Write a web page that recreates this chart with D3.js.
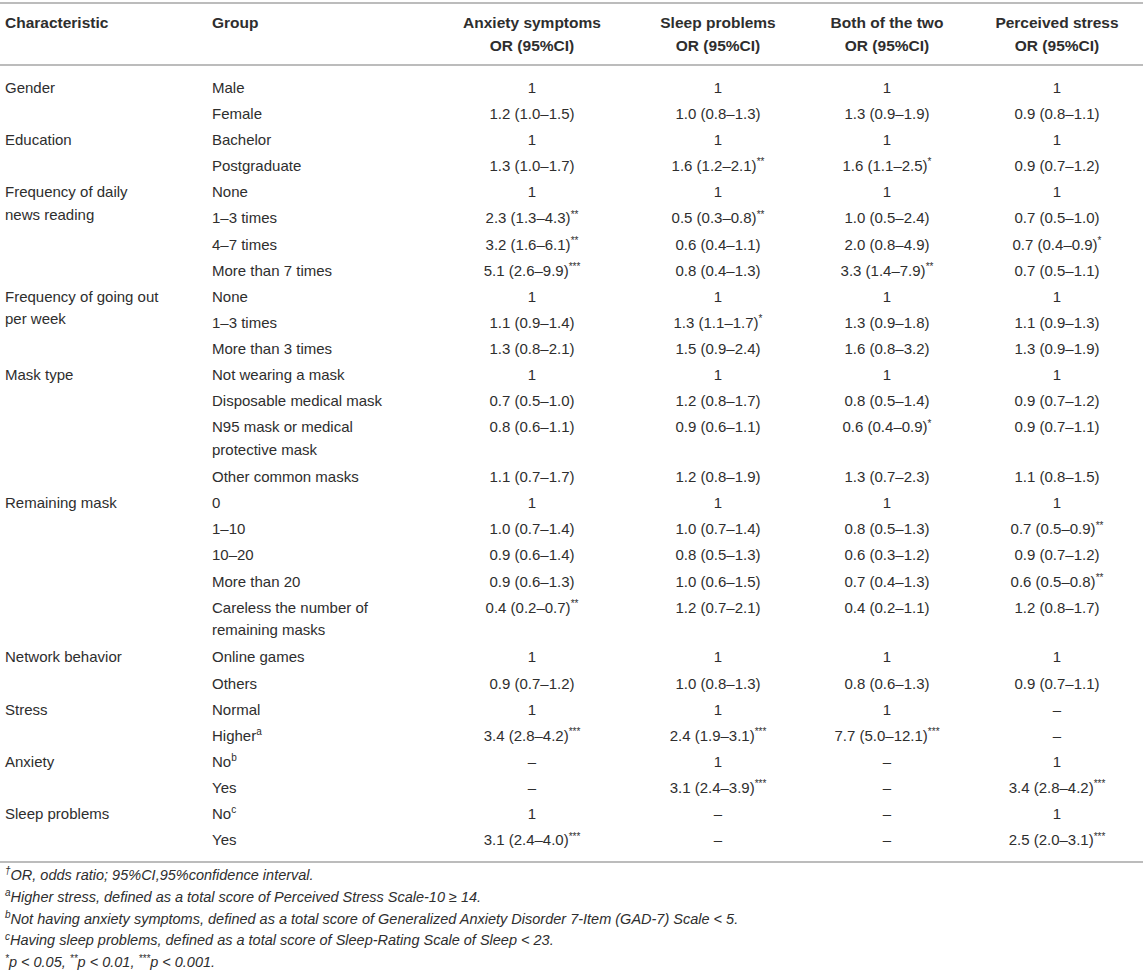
<!DOCTYPE html>
<html>
<head>
<meta charset="utf-8">
<script src="https://cdn.jsdelivr.net/npm/d3@7"></script>
<style>
  html, body { margin: 0; padding: 0; background: #fff; }
  svg text { font-family: "Liberation Sans", Arial, Helvetica, sans-serif; fill: #2e2e2e; }
</style>
</head>
<body>
<svg id="chart" width="1143" height="972"></svg>
<script>
// ---------------- DATA ----------------
const columns = ["Anxiety symptoms", "Sleep problems", "Both of the two", "Perceived stress"];
const columnSub = "OR (95%CI)";

// characteristic label (with line breaks) and the number of group rows it spans
const characteristics = [
  "Gender", "Education", "Frequency of daily\nnews reading", "Frequency of going out\nper week",
  "Mask type", "Remaining mask", "Network behavior", "Stress", "Anxiety", "Sleep problems"
];
const groupCounts = [2, 2, 4, 3, 4, 5, 2, 2, 2, 2];

// group labels ("^" marks a superscript)
const groups = [
  "Male", "Female",
  "Bachelor", "Postgraduate",
  "None", "1–3 times", "4–7 times", "More than 7 times",
  "None", "1–3 times", "More than 3 times",
  "Not wearing a mask", "Disposable medical mask", "N95 mask or medical\nprotective mask", "Other common masks",
  "0", "1–10", "10–20", "More than 20", "Careless the number of\nremaining masks",
  "Online games", "Others",
  "Normal", "Higher^a",
  "No^b", "Yes",
  "No^c", "Yes"
];

// odds ratios (95% CI); "^" marks the significance stars
const anxietyOR = [
  "1", "1.2 (1.0–1.5)",
  "1", "1.3 (1.0–1.7)",
  "1", "2.3 (1.3–4.3)^**", "3.2 (1.6–6.1)^**", "5.1 (2.6–9.9)^***",
  "1", "1.1 (0.9–1.4)", "1.3 (0.8–2.1)",
  "1", "0.7 (0.5–1.0)", "0.8 (0.6–1.1)", "1.1 (0.7–1.7)",
  "1", "1.0 (0.7–1.4)", "0.9 (0.6–1.4)", "0.9 (0.6–1.3)", "0.4 (0.2–0.7)^**",
  "1", "0.9 (0.7–1.2)",
  "1", "3.4 (2.8–4.2)^***",
  "–", "–",
  "1", "3.1 (2.4–4.0)^***"
];
const sleepOR = [
  "1", "1.0 (0.8–1.3)",
  "1", "1.6 (1.2–2.1)^**",
  "1", "0.5 (0.3–0.8)^**", "0.6 (0.4–1.1)", "0.8 (0.4–1.3)",
  "1", "1.3 (1.1–1.7)^*", "1.5 (0.9–2.4)",
  "1", "1.2 (0.8–1.7)", "0.9 (0.6–1.1)", "1.2 (0.8–1.9)",
  "1", "1.0 (0.7–1.4)", "0.8 (0.5–1.3)", "1.0 (0.6–1.5)", "1.2 (0.7–2.1)",
  "1", "1.0 (0.8–1.3)",
  "1", "2.4 (1.9–3.1)^***",
  "1", "3.1 (2.4–3.9)^***",
  "–", "–"
];
const bothOR = [
  "1", "1.3 (0.9–1.9)",
  "1", "1.6 (1.1–2.5)^*",
  "1", "1.0 (0.5–2.4)", "2.0 (0.8–4.9)", "3.3 (1.4–7.9)^**",
  "1", "1.3 (0.9–1.8)", "1.6 (0.8–3.2)",
  "1", "0.8 (0.5–1.4)", "0.6 (0.4–0.9)^*", "1.3 (0.7–2.3)",
  "1", "0.8 (0.5–1.3)", "0.6 (0.3–1.2)", "0.7 (0.4–1.3)", "0.4 (0.2–1.1)",
  "1", "0.8 (0.6–1.3)",
  "1", "7.7 (5.0–12.1)^***",
  "–", "–",
  "–", "–"
];
const stressOR = [
  "1", "0.9 (0.8–1.1)",
  "1", "0.9 (0.7–1.2)",
  "1", "0.7 (0.5–1.0)", "0.7 (0.4–0.9)^*", "0.7 (0.5–1.1)",
  "1", "1.1 (0.9–1.3)", "1.3 (0.9–1.9)",
  "1", "0.9 (0.7–1.2)", "0.9 (0.7–1.1)", "1.1 (0.8–1.5)",
  "1", "0.7 (0.5–0.9)^**", "0.9 (0.7–1.2)", "0.6 (0.5–0.8)^**", "1.2 (0.8–1.7)",
  "1", "0.9 (0.7–1.1)",
  "–", "–",
  "1", "3.4 (2.8–4.2)^***",
  "1", "2.5 (2.0–3.1)^***"
];

const footnotes = [
  "^†OR, odds ratio; 95%CI,95%confidence interval.",
  "^aHigher stress, defined as a total score of Perceived Stress Scale-10 ≥ 14.",
  "^bNot having anxiety symptoms, defined as a total score of Generalized Anxiety Disorder 7-Item (GAD-7) Scale < 5.",
  "^cHaving sleep problems, defined as a total score of Sleep-Rating Scale of Sleep < 23.",
  "^*p < 0.05, ^**p < 0.01, ^***p < 0.001."
];

// ---------------- LAYOUT ----------------
const W = 1143;
const svg = d3.select("#chart");
const valueSeries = [anxietyOR, sleepOR, bothOR, stressOR];

// column positions
const xCol = d3.scaleOrdinal().domain(columns).range([532, 718, 887, 1057]);
const xChar = 5, xGroup = 212;

// row positions: cumulative units (two-line group rows take 1.9 units)
const rowUnits = groups.map(g => g.includes("\n") ? 1.9 : 1);
const rowStart = d3.cumsum([0, ...rowUnits]);
const yRow = d3.scaleLinear().domain([0, 1]).range([87.5, 87.5 + 26.13]);
const lineGap = 22.5;

// rule lines
const ruleY = [3, 65, 862];
svg.selectAll("line.rule").data(ruleY).join("line")
  .attr("class", "rule")
  .attr("x1", 0).attr("x2", W)
  .attr("y1", d => d).attr("y2", d => d)
  .attr("stroke", "#a6a6a6").attr("stroke-width", 1.6);

// helper to write text with "^" superscript parts (stars or a single letter / dagger)
function richText(sel, str, size, supSize) {
  const parts = [];
  const re = /\^(\*+|[a-z†])/g;
  let last = 0, m;
  while ((m = re.exec(str)) !== null) {
    if (m.index > last) parts.push({ t: str.slice(last, m.index), sup: false });
    parts.push({ t: m[1], sup: true });
    last = m.index + m[0].length;
  }
  if (last < str.length) parts.push({ t: str.slice(last), sup: false });
  let shifted = false;
  parts.forEach(p => {
    const ts = sel.append("tspan").text(p.t);
    if (p.sup) {
      ts.attr("font-size", supSize).attr("dy", shifted ? 0 : -size * 0.38);
      shifted = true;
    } else {
      ts.attr("font-size", size);
      if (shifted) { ts.attr("dy", size * 0.38); shifted = false; }
    }
  });
}

// header
const head = svg.append("g").attr("font-weight", "bold").attr("font-size", 15.5);
head.append("text").attr("x", xChar).attr("y", 23).attr("dy", "0.35em").text("Characteristic");
head.append("text").attr("x", xGroup).attr("y", 23).attr("dy", "0.35em").text("Group");
columns.forEach(c => {
  const t = head.append("text").attr("text-anchor", "middle").attr("x", xCol(c));
  t.append("tspan").attr("x", xCol(c)).attr("y", 23).attr("dy", "0.35em").text(c);
  t.append("tspan").attr("x", xCol(c)).attr("y", 23 + 23).attr("dy", "0.35em").text(columnSub);
});

// body
const body = svg.append("g").attr("font-size", 15);
let gi = 0;
characteristics.forEach((c, ci) => {
  const y0 = yRow(rowStart[gi]);
  const t = body.append("text").attr("x", xChar);
  c.split("\n").forEach((ln, li) => {
    t.append("tspan").attr("x", xChar).attr("y", y0 + li * lineGap).attr("dy", "0.35em").text(ln);
  });
  gi += groupCounts[ci];
});

groups.forEach((g, i) => {
  const y0 = yRow(rowStart[i]);
  g.split("\n").forEach((ln, li) => {
    const t = body.append("text").attr("x", xGroup).attr("y", y0 + li * lineGap).attr("dy", "0.35em");
    richText(t, ln, 15, 10);
  });
});

valueSeries.forEach((series, si) => {
  series.forEach((v, i) => {
    const t = body.append("text").attr("text-anchor", "middle")
      .attr("x", xCol(columns[si])).attr("y", yRow(rowStart[i])).attr("dy", "0.35em");
    richText(t, v, 15, 10);
  });
});

// footnotes
const fn = svg.append("g").attr("font-style", "italic");
footnotes.forEach((f, i) => {
  const t = fn.append("text").attr("x", xChar).attr("y", 880 + i * 21.8).attr("dy", "0.35em");
  richText(t, f, 14.5, 10);
});
</script>
</body>
</html>
